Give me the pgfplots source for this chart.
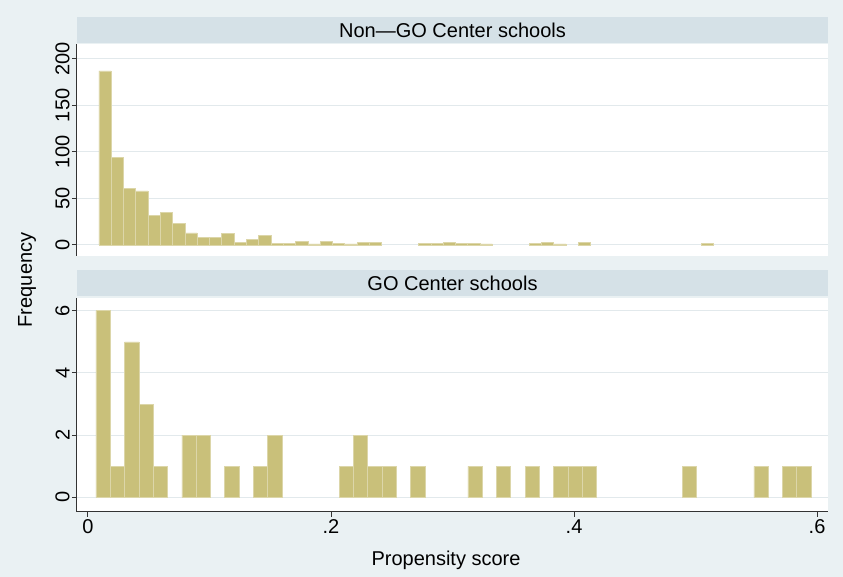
\documentclass[border=0pt]{standalone}
\usepackage{fontspec}
\setmainfont{Liberation Sans}
\usepackage{pgfplots}
\pgfplotsset{compat=1.18}
\definecolor{bgc}{RGB}{234,241,243}
\definecolor{stripc}{RGB}{213,225,231}
\definecolor{barc}{RGB}{201,192,122}
\definecolor{gridc}{RGB}{226,233,236}
\begin{document}
\begin{tikzpicture}[font=\fontsize{10}{12}\selectfont]
\fill[bgc] (0,0) rectangle (421.5pt,288.5pt);
\useasboundingbox (0,0) rectangle (421.5pt,288.5pt);
\pgfplotsset{
  panel/.style={
    scale only axis, width=375.5pt,
    xmin=-0.00905, xmax=0.609,
    axis background/.style={fill=white},
    axis y line*=left,
    axis line style={black!80, line width=0.5pt},
    tick style={black!80, line width=0.5pt},
    tick align=outside, major tick length=2.5pt,
    ymajorgrids, grid style={gridc, line width=0.5pt},
    yticklabel style={rotate=90, anchor=south, inner sep=1pt},
    xticklabel style={inner sep=1pt},
    ybar, bar width=0.0101,
  }
}
% ---------- top panel: Non-GO Center schools ----------
\begin{axis}[panel, name=top,
  at={(38.5pt,160.5pt)}, anchor=south west, height=106pt,
  ymin=-11.9, ymax=216,
  ytick={0,50,100,150,200}, yticklabels={0,50,100,150,200},
  axis x line=none]
\addplot[fill=barc, draw=barc!65!white, line width=0.3pt, bar width=0.0101] coordinates {
(0.01396,187) (0.02408,94) (0.03420,61) (0.04432,58) (0.05444,32)
(0.06456,35) (0.07468,23) (0.08480,13) (0.09492,8) (0.10504,8)
(0.11516,12) (0.12528,3) (0.13540,6) (0.14552,10) (0.15564,2)
(0.16576,2) (0.17588,4) (0.18600,1) (0.19612,4) (0.20624,2)
(0.21636,1) (0.22648,3) (0.23660,3)
(0.27708,2) (0.28720,2) (0.29732,3) (0.30744,2) (0.31756,2) (0.32768,1)
(0.36816,2) (0.37828,3) (0.38840,1) (0.40864,3)
(0.50984,2)
};
\end{axis}
% ---------- bottom panel: GO Center schools ----------
\begin{axis}[panel, name=bot,
  at={(38.5pt,32.5pt)}, anchor=south west, height=107pt,
  ymin=-0.47, ymax=6.41,
  ytick={0,2,4,6}, yticklabels={0,2,4,6},
  axis x line*=bottom,
  xtick={0,0.2,0.4,0.6}, xticklabels={0,.2,.4,.6}]
\addplot[fill=barc, draw=barc!65!white, line width=0.3pt, bar width=0.01177] coordinates {
(0.01247,6) (0.02424,1) (0.03601,5) (0.04778,3) (0.05955,1)
(0.08309,2) (0.09486,2) (0.11840,1) (0.14194,1) (0.15371,2)
(0.21256,1) (0.22433,2) (0.23610,1) (0.24787,1) (0.27141,1)
(0.31849,1) (0.34203,1) (0.36557,1) (0.38911,1) (0.40088,1)
(0.41265,1) (0.49504,1) (0.55389,1) (0.57743,1) (0.58920,1)
};
\end{axis}
% strips
\fill[stripc] (38.5pt,267pt) rectangle (414pt,280pt);
\node at (226.25pt,273.5pt) {Non—GO Center schools};
\fill[stripc] (38.5pt,140.5pt) rectangle (414pt,153.5pt);
\node at (226.25pt,147pt) {GO Center schools};
% axis titles
\node[rotate=90] at (13.5pt,148.5pt) {Frequency};
\node at (223pt,8.5pt) {Propensity score};
\end{tikzpicture}
\end{document}
